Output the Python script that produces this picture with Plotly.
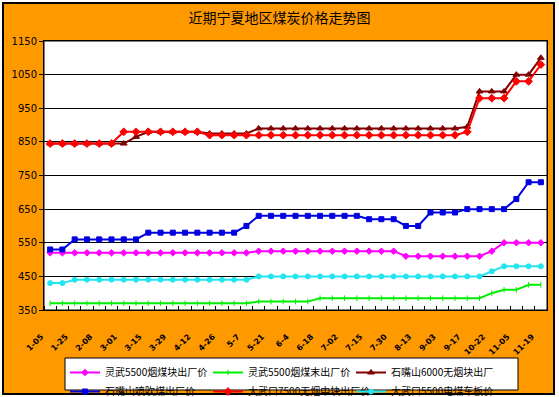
import plotly.graph_objects as go

idx = list(range(41))
tick_labels = ["1-05", "1-25", "2-08", "3-01", "3-15", "3-29", "4-12", "4-26", "5-7", "5-21",
               "6-4", "6-18", "7-02", "7-15", "7-30", "8-13", "9-03", "9-17", "10-22", "11-05", "11-19"]

lingwu_kuai = [520]*17 + [525]*12 + [510]*7 + [525] + [550]*4
lingwu_mo = [370]*17 + [375]*5 + [385]*14 + [400, 410, 410, 425, 425]
szs_6000 = [845]*7 + [865] + [880]*5 + [875]*4 + [890]*17 + [895] + [1000]*3 + [1050]*2 + [1100]
szs_penchui = [530]*2 + [560]*6 + [580]*8 + [600] + [630]*9 + [620]*3 + [600]*2 + [640]*3 + [650]*4 + [680, 730, 730]
dwk_7500 = [845]*6 + [880]*7 + [870]*21 + [880] + [980]*3 + [1030]*2 + [1080]
dwk_5500 = [430]*2 + [440]*15 + [450]*19 + [465, 480, 480, 480, 480]

series = [
    ("灵武5500烟煤块出厂价", lingwu_kuai, "#FF00FF", "diamond", 5),
    ("灵武5500烟煤末出厂价", lingwu_mo, "#00EE00", "line-ns", 4),
    ("石嘴山6000无烟块出厂价", szs_6000, "#800000", "triangle-up", 6),
    ("石嘴山喷吹煤出厂价", szs_penchui, "#0000E0", "square", 5),
    ("大武口7500无烟中块出厂价", dwk_7500, "#FF0000", "diamond", 6),
    ("大武口5500电煤车板价", dwk_5500, "#22E5F0", "circle", 5),
]

fig = go.Figure()
for name, vals, color, sym, size in series:
    fig.add_trace(go.Scatter(
        x=idx, y=vals, name=name, mode="lines+markers",
        line=dict(color=color, width=2),
        marker=dict(symbol=sym, size=size, color=color, line=dict(color=color, width=1)),
    ))

L, R, T, B = 44, 12, 41, 87
W, H = 559, 397
pw, ph = W - L - R, H - T - B

def px_x(p):
    return (p - L) / pw

def px_y(p):
    return (H - B - p) / ph

fig.update_layout(
    width=W, height=H,
    margin=dict(l=L, r=R, t=T, b=B, autoexpand=False),
    paper_bgcolor="white",
    plot_bgcolor="rgba(0,0,0,0)",
    title=dict(text="近期宁夏地区煤炭价格走势图", x=0.5, xref="container", xanchor="center",
               y=1 - 18 / H, yref="container", yanchor="middle",
               font=dict(family="Noto Sans CJK SC", size=14, color="black")),
    showlegend=True,
    legend=dict(orientation="h", x=px_x(65), xanchor="left",
                yref="container", y=(H - 358) / H, yanchor="top",
                bgcolor="rgba(0,0,0,0)", borderwidth=0,
                entrywidth=98, entrywidthmode="pixels", tracegroupgap=0, itemwidth=30,
                font=dict(family="Noto Sans CJK SC", size=10, color="black")),
    shapes=[
        dict(type="rect", xref="paper", yref="paper", x0=px_x(3), x1=px_x(554), y0=px_y(394), y1=px_y(3),
             fillcolor="#FF9900", line=dict(color="black", width=2), layer="below"),
        dict(type="rect", xref="paper", yref="paper", x0=0, x1=1, y0=0, y1=1,
             fillcolor="white", line=dict(color="black", width=1), layer="below"),
        dict(type="rect", xref="paper", yref="paper", x0=px_x(65), x1=px_x(518), y0=px_y(390), y1=px_y(358),
             fillcolor="white", line=dict(color="black", width=1), layer="below"),
    ],
)

fig.update_xaxes(
    range=[-0.5, 40.5], tickmode="array", tickvals=idx[::2], ticktext=tick_labels,
    tickangle=-45, ticks="outside", ticklen=18, tickcolor="rgba(0,0,0,0)",
    showgrid=False, zeroline=False, ticklabelshift=-9,
    showline=True, linecolor="black", linewidth=1, mirror=True,
    tickfont=dict(family="DejaVu Sans", size=8, color="black", weight="bold"),
    minor=dict(tickmode="array", tickvals=[i + 0.5 for i in range(-1, 41)], ticks="inside",
               ticklen=4, tickcolor="black", tickwidth=1, showgrid=False),
)
fig.update_yaxes(
    range=[350, 1150], tickmode="linear", tick0=350, dtick=100,
    showgrid=True, gridcolor="black", gridwidth=1, zeroline=False,
    showline=True, linecolor="black", linewidth=1, mirror=True,
    ticks="outside", ticklen=4, tickcolor="black",
    tickfont=dict(family="DejaVu Sans", size=10, color="black"),
)

fig.write_html("out.html", config={"displayModeBar": False},
               post_script="document.body.style.margin='0';document.body.style.overflow='hidden';")
